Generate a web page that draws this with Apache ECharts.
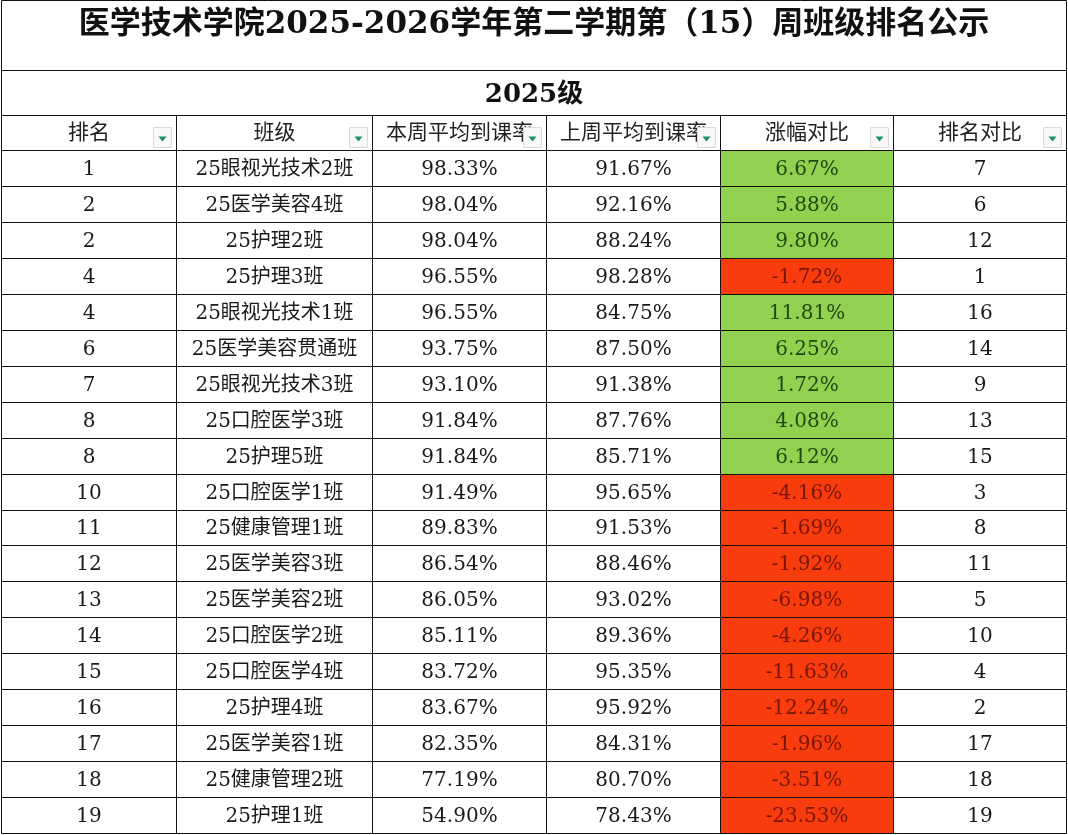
<!DOCTYPE html>
<html>
<head>
<meta charset="utf-8">
<script src="https://cdn.jsdelivr.net/npm/echarts@6/dist/echarts.min.js"></script>
<style>
  html, body { margin: 0; padding: 0; background: #fff; }
  #table_chart { width: 1068px; height: 835px; }
</style>
</head>
<body>
<div id="table_chart"></div>
<script>
var titleText = '医学技术学院2025-2026学年第二学期第（15）周班级排名公示';
var gradeText = '2025级';
var headers = ['排名', '班级', '本周平均到课率', '上周平均到课率', '涨幅对比', '排名对比'];

var ranks = [1, 2, 2, 4, 4, 6, 7, 8, 8, 10, 11, 12, 13, 14, 15, 16, 17, 18, 19];
var classes = ['25眼视光技术2班', '25医学美容4班', '25护理2班', '25护理3班', '25眼视光技术1班',
    '25医学美容贯通班', '25眼视光技术3班', '25口腔医学3班', '25护理5班', '25口腔医学1班',
    '25健康管理1班', '25医学美容3班', '25医学美容2班', '25口腔医学2班', '25口腔医学4班',
    '25护理4班', '25医学美容1班', '25健康管理2班', '25护理1班'];
var thisWeek = [98.33, 98.04, 98.04, 96.55, 96.55, 93.75, 93.10, 91.84, 91.84, 91.49,
    89.83, 86.54, 86.05, 85.11, 83.72, 83.67, 82.35, 77.19, 54.90];
var lastWeek = [91.67, 92.16, 88.24, 98.28, 84.75, 87.50, 91.38, 87.76, 85.71, 95.65,
    91.53, 88.46, 93.02, 89.36, 95.35, 95.92, 84.31, 80.70, 78.43];
var change = [6.67, 5.88, 9.80, -1.72, 11.81, 6.25, 1.72, 4.08, 6.12, -4.16,
    -1.69, -1.92, -6.98, -4.26, -11.63, -12.24, -1.96, -3.51, -23.53];
var lastRank = [7, 6, 12, 1, 16, 14, 9, 13, 15, 3, 8, 11, 5, 10, 4, 2, 17, 18, 19];

// layout (axis units = pixels of the sheet)
var colEdges = [1, 176, 372, 546, 720, 893, 1066];
var titleRow = [0, 70];
var gradeRow = [70, 115];
var headRow = [115, 150];
var bodyTop = 150, rowH = 35.95;

var fontCJK = "'DejaVu Serif','Noto Sans CJK SC'";

function pct(v) { return v.toFixed(2) + '%'; }

// build cells: [x0, y0, x1, y1, kind, row, col]
var cells = [];
cells.push([colEdges[0], titleRow[0], colEdges[6], titleRow[1], 'title', -1, -1]);
cells.push([colEdges[0], gradeRow[0], colEdges[6], gradeRow[1], 'grade', -1, -1]);
for (var c = 0; c < 6; c++) {
    cells.push([colEdges[c], headRow[0], colEdges[c + 1], headRow[1], 'head', -1, c]);
}
for (var r = 0; r < ranks.length; r++) {
    for (var c = 0; c < 6; c++) {
        cells.push([colEdges[c], bodyTop + r * rowH, colEdges[c + 1], bodyTop + (r + 1) * rowH, 'body', r, c]);
    }
}

function cellText(kind, r, c) {
    if (kind === 'title') return titleText;
    if (kind === 'grade') return gradeText;
    if (kind === 'head') return headers[c];
    return [String(ranks[r]), classes[r], pct(thisWeek[r]), pct(lastWeek[r]), pct(change[r]), String(lastRank[r])][c];
}

function renderCell(params, api) {
    var d = cells[params.dataIndex];
    var p0 = api.coord([d[0], d[1]]);
    var p1 = api.coord([d[2], d[3]]);
    var x0 = Math.round(p0[0]) + 0.5, y0 = Math.round(p0[1]) + 0.5;
    var x1 = Math.round(p1[0]) + 0.5, y1 = Math.round(p1[1]) + 0.5;
    var kind = d[4], r = d[5], c = d[6];
    var fill = '#fff', txtColor = '#1a1a1a';
    var size = 20, weight = 'normal';
    var ty = (y0 + y1) / 2 + 1;
    if (kind === 'title') { size = 31; weight = 'bold'; txtColor = '#111'; ty = y0 + 24; }
    if (kind === 'grade') { size = 26; weight = 'bold'; txtColor = '#111'; ty = y0 + 25; }
    if (kind === 'head') { size = 21; txtColor = '#222'; }
    if (kind === 'body' && c === 4) {
        if (change[r] >= 0) { fill = '#92d050'; txtColor = '#1f4a12'; }
        else { fill = '#f83c0e'; txtColor = '#7a1608'; }
    }
    var children = [
        { type: 'rect', z2: 1, shape: { x: x0, y: y0, width: x1 - x0, height: y1 - y0 },
          style: { fill: fill, stroke: null } },
        { type: 'text', z2: 2, style: {
            text: cellText(kind, r, c), x: (x0 + x1) / 2, y: ty,
            align: 'center', verticalAlign: 'middle',
            fontSize: size, fontWeight: weight, fontFamily: fontCJK, fill: txtColor } },
        { type: 'rect', z2: 5, shape: { x: x0, y: y0, width: x1 - x0, height: y1 - y0 },
          style: { fill: null, stroke: '#111', lineWidth: 1 } }
    ];
    if (kind === 'head') {
        // filter drop-down button
        var bx = x1 - 23, by = y0 + 12;
        children.push({ type: 'rect', z2: 3, shape: { x: bx, y: by, width: 18, height: 20 },
            style: { fill: '#f7f8f7', stroke: '#dadada', lineWidth: 1 } });
        children.push({ type: 'polygon', z2: 4,
            shape: { points: [[bx + 5, by + 9], [bx + 13, by + 9], [bx + 9, by + 14]] },
            style: { fill: '#1f8f66' } });
    }
    return { type: 'group', children: children };
}

var myChart = echarts.init(document.getElementById('table_chart'));
var option = {
    backgroundColor: '#fff',
    animation: false,
    grid: { left: 0, right: 0, top: 0, bottom: 0 },
    xAxis: { type: 'value', min: 0, max: 1068, show: false },
    yAxis: { type: 'value', min: 0, max: 835, inverse: true, show: false },
    series: [
        {
            type: 'custom',
            coordinateSystem: 'cartesian2d',
            renderItem: renderCell,
            encode: { x: [0, 2], y: [1, 3] },
            data: cells.map(function (d) { return d.slice(0, 4); }),
            clip: false
        }
    ]
};
myChart.setOption(option);
</script>
</body>
</html>
